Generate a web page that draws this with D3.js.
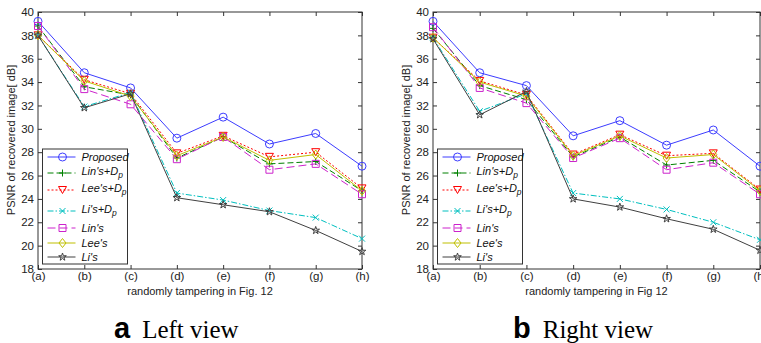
<!DOCTYPE html>
<html lang="en">
<head>
<meta charset="UTF-8">
<title>PSNR of recovered image</title>
<script src="https://d3js.org/d3.v7.min.js"></script>
<style>
  body { margin: 0; background: #fff; }
  svg { display: block; }
</style>
</head>
<body>
<svg width="761" height="343"></svg>
<script>
// categories and ticks
var categories = ["(a)", "(b)", "(c)", "(d)", "(e)", "(f)", "(g)", "(h)"];
var yTicks = [18, 20, 22, 24, 26, 28, 30, 32, 34, 36, 38, 40];
var seriesNames = ["Proposed", "Lin's+D", "Lee's+D", "Li's+D", "Lin's", "Lee's", "Li's"];
var seriesSub = ["", "p", "p", "p", "", "", ""];

// left view values
var leftProposed = [39.2, 34.8, 33.5, 29.2, 31.0, 28.7, 29.6, 26.8];
var leftLinDp    = [38.8, 33.6, 32.9, 27.5, 29.3, 27.0, 27.2, 24.7];
var leftLeeDp    = [38.0, 34.2, 33.0, 27.9, 29.4, 27.6, 28.0, 24.9];
var leftLiDp     = [38.0, 31.9, 33.1, 24.5, 23.9, 23.0, 22.4, 20.6];
var leftLin      = [38.8, 33.4, 32.1, 27.4, 29.3, 26.5, 27.0, 24.4];
var leftLee      = [38.0, 34.1, 32.8, 27.7, 29.3, 27.3, 27.8, 24.7];
var leftLi       = [38.0, 31.8, 33.0, 24.1, 23.5, 22.9, 21.3, 19.5];

// right view values
var rightProposed = [39.2, 34.8, 33.7, 29.4, 30.7, 28.6, 29.9, 26.8];
var rightLinDp    = [38.6, 33.7, 32.5, 27.6, 29.3, 26.9, 27.3, 24.6];
var rightLeeDp    = [37.8, 34.1, 32.9, 27.8, 29.5, 27.7, 27.9, 24.8];
var rightLiDp     = [37.8, 31.5, 33.0, 24.5, 24.0, 23.1, 22.0, 20.5];
var rightLin      = [38.7, 33.5, 32.2, 27.5, 29.2, 26.5, 27.1, 24.4];
var rightLee      = [37.8, 34.0, 32.8, 27.7, 29.4, 27.5, 27.8, 24.7];
var rightLi       = [37.7, 31.2, 33.2, 24.0, 23.3, 22.3, 21.4, 19.6];

// line styles, matlab-ish
var styles = [
  {color: "#3c3cff", dash: null,          marker: "circle"},
  {color: "#008000", dash: "6,3",         marker: "plus"},
  {color: "#ff0000", dash: "2,2",         marker: "tri"},
  {color: "#00bfbf", dash: "6,2,1.5,2",   marker: "x"},
  {color: "#cc22cc", dash: "8,4",         marker: "square"},
  {color: "#bfbf00", dash: null,          marker: "diamond"},
  {color: "#404040", dash: null,          marker: "star"}
];

var svg = d3.select("svg");
var font = "'Liberation Sans', Arial, sans-serif";

function marker(g, type, x, y, color) {
  var p;
  if (type === "circle") {
    g.append("circle").attr("cx", x).attr("cy", y).attr("r", 4)
      .attr("fill", "none").attr("stroke", color).attr("stroke-width", 1);
    return;
  }
  if (type === "plus") p = "M-3.5,0H3.5M0,-3.5V3.5";
  if (type === "x") p = "M-3,-3L3,3M-3,3L3,-3";
  if (type === "square") p = "M-3.5,-3.5H3.5V3.5H-3.5Z";
  if (type === "tri") p = "M-4,-3.5H4L0,3.5Z";
  if (type === "diamond") p = "M0,-4.5L3.5,0L0,4.5L-3.5,0Z";
  if (type === "star") p = d3.symbol().type(d3.symbolStar).size(18)();
  g.append("path").attr("d", p).attr("transform", "translate(" + x + "," + y + ")")
    .attr("fill", "none").attr("stroke", color).attr("stroke-width", 1);
}

function drawPanel(opt) {
  var x = d3.scalePoint().domain(categories).range([opt.left, opt.right]);
  var y = d3.scaleLinear().domain([18, 40]).range([269, 12]);
  var g = svg.append("g");
  var axisColor = "#333";

  // box
  g.append("rect").attr("x", opt.left).attr("y", 12)
    .attr("width", opt.right - opt.left).attr("height", 257)
    .attr("fill", "none").attr("stroke", axisColor).attr("stroke-width", 1);

  // axes with inward ticks
  var ax = g.append("g").attr("transform", "translate(0,269)")
    .call(d3.axisBottom(x).tickSizeInner(-4).tickSizeOuter(0).tickPadding(3));
  var axTop = g.append("g").attr("transform", "translate(0,12)")
    .call(d3.axisTop(x).tickSizeInner(-4).tickSizeOuter(0).tickFormat(""));
  var ay = g.append("g").attr("transform", "translate(" + opt.left + ",0)")
    .call(d3.axisLeft(y).tickValues(yTicks).tickSizeInner(-4).tickSizeOuter(0).tickPadding(4));
  var ayR = g.append("g").attr("transform", "translate(" + opt.right + ",0)")
    .call(d3.axisRight(y).tickValues(yTicks).tickSizeInner(-4).tickSizeOuter(0).tickFormat(""));
  [ax, axTop, ay, ayR].forEach(function(a) {
    a.select(".domain").remove();
    a.selectAll("line").attr("stroke", axisColor);
    a.selectAll("text").attr("fill", "#222").style("font-family", font).style("font-size", "11.5px");
  });

  // series
  opt.values.forEach(function(vals, i) {
    var s = styles[i];
    var line = d3.line().x(function(d, k) { return x(categories[k]); }).y(function(d) { return y(d); });
    g.append("path").datum(vals).attr("d", line)
      .attr("fill", "none").attr("stroke", s.color).attr("stroke-width", 1)
      .attr("stroke-dasharray", s.dash);
    vals.forEach(function(v, k) { marker(g, s.marker, x(categories[k]), y(v), s.color); });
  });

  // axis titles
  g.append("text").attr("x", (opt.left + opt.right) / 2).attr("y", 295)
    .attr("text-anchor", "middle").attr("fill", "#222")
    .style("font-family", font).style("font-size", "11px").text(opt.xLabel);
  g.append("text").attr("transform", "translate(" + (opt.left - 23) + "," + 140 + ") rotate(-90)")
    .attr("text-anchor", "middle").attr("fill", "#222")
    .style("font-family", font).style("font-size", "11px").text("PSNR of recovered image[ dB]");

  // legend
  var lx = opt.left + 4.5, ly = 149;
  var lg = g.append("g");
  lg.append("rect").attr("x", lx).attr("y", ly).attr("width", 85).attr("height", 115)
    .attr("fill", "#fff").attr("stroke", axisColor).attr("stroke-width", 1);
  var rows = [8, 24, 41, 62, 79, 94, 108];
  seriesNames.forEach(function(name, i) {
    var s = styles[i];
    var ry = ly + rows[i];
    lg.append("line").attr("x1", lx + 5).attr("x2", lx + 33).attr("y1", ry).attr("y2", ry)
      .attr("stroke", s.color).attr("stroke-width", 1).attr("stroke-dasharray", s.dash);
    marker(lg, s.marker, lx + 20, ry, s.color);
    var t = lg.append("text").attr("x", lx + 39).attr("y", ry + (seriesSub[i] ? 2 : 4))
      .attr("fill", "#111").style("font-family", font).style("font-size", "11px")
      .style("font-style", "italic").text(name);
    if (seriesSub[i]) {
      t.append("tspan").attr("dy", 3).style("font-size", "8.5px").text(seriesSub[i]);
    }
  });

  // caption
  var cap = svg.append("text").attr("x", opt.capX).attr("y", 338);
  cap.append("tspan").style("font-family", font).style("font-weight", "bold")
    .style("font-size", "29px").text(opt.capLetter);
  cap.append("tspan").attr("dx", 12).style("font-family", "'Liberation Serif', 'Times New Roman', serif")
    .style("font-size", "25px").text(opt.capText);
}

drawPanel({
  left: 38, right: 362,
  values: [leftProposed, leftLinDp, leftLeeDp, leftLiDp, leftLin, leftLee, leftLi],
  xLabel: "randomly tampering in Fig. 12",
  capX: 114, capLetter: "a", capText: "Left view"
});
drawPanel({
  left: 433, right: 760,
  values: [rightProposed, rightLinDp, rightLeeDp, rightLiDp, rightLin, rightLee, rightLi],
  xLabel: "randomly tampering in Fig 12",
  capX: 513, capLetter: "b", capText: "Right view"
});
</script>
</body>
</html>
